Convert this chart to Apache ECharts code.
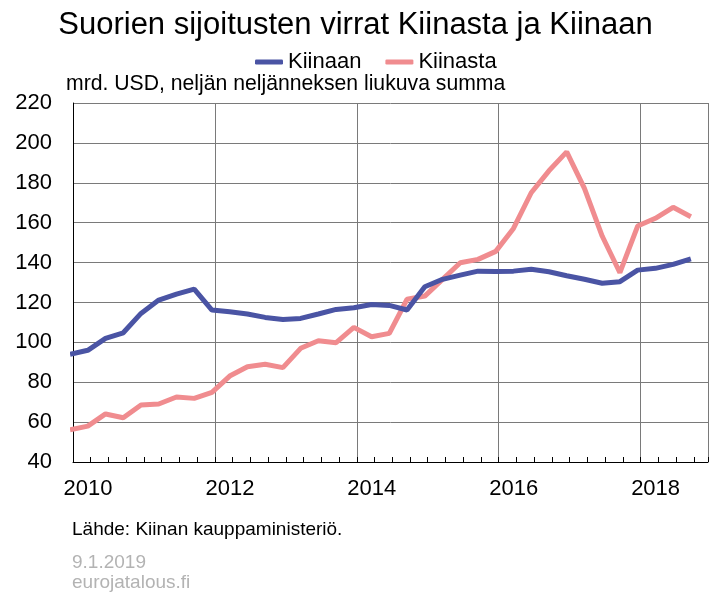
<!DOCTYPE html>
<html>
<head>
<meta charset="utf-8">
<script src="https://cdn.jsdelivr.net/npm/echarts@6/dist/echarts.min.js"></script>
<style>
  html, body { margin: 0; padding: 0; background: #fff; }
  #chart { width: 711px; height: 594px; }
</style>
</head>
<body>
<div id="chart"></div>
<script>
// quarterly observations, 4-quarter rolling sum, bn USD
const quarters = [
  '2009Q4',
  '2010Q1', '2010Q2', '2010Q3', '2010Q4',
  '2011Q1', '2011Q2', '2011Q3', '2011Q4',
  '2012Q1', '2012Q2', '2012Q3', '2012Q4',
  '2013Q1', '2013Q2', '2013Q3', '2013Q4',
  '2014Q1', '2014Q2', '2014Q3', '2014Q4',
  '2015Q1', '2015Q2', '2015Q3', '2015Q4',
  '2016Q1', '2016Q2', '2016Q3', '2016Q4',
  '2017Q1', '2017Q2', '2017Q3', '2017Q4',
  '2018Q1', '2018Q2', '2018Q3'
];
const kiinaan = [
  94,
  96, 102, 104.8, 114.5,
  121.2, 124.2, 126.7, 116.2,
  115.3, 114.2, 112.5, 111.5,
  112.0, 114.2, 116.5, 117.3,
  119.0, 118.5, 116.2, 127.9,
  131.6, 133.7, 135.7, 135.5,
  135.7, 136.6, 135.4, 133.4,
  131.6, 129.6, 130.4, 136.2,
  137.1, 139.1, 141.9
];
const kiinasta = [
  56.2,
  58.0, 64.1, 62.2, 68.6,
  69.1, 72.6, 71.9, 74.9,
  83.1, 87.8, 89.0, 87.3,
  97.0, 100.8, 99.8, 107.5,
  102.8, 104.5, 121.6, 123.2,
  131.6, 139.9, 141.6, 145.6,
  157.1, 175.0, 186.0, 195.5,
  177.2, 153.3, 134.9, 158.3,
  162.2, 167.7, 163.0
];
const yearTicks = [2010, 2012, 2014, 2016, 2018];

const FONT = '"Liberation Sans", Arial, sans-serif';

// point sits in the middle of the quarter's last month
const qToX = q => {
  const y = parseInt(q.slice(0, 4), 10);
  const n = parseInt(q.slice(5), 10);
  return y + ((n - 1) * 3 + 2.5) / 12;
};
const toPairs = vals => quarters.map((q, i) => [qToX(q), vals[i]]);

const chart = echarts.init(document.getElementById('chart'), null, { renderer: 'canvas' });

chart.setOption({
  animation: false,
  backgroundColor: '#fff',
  textStyle: { fontFamily: FONT },
  title: {
    text: 'Suorien sijoitusten virrat Kiinasta ja Kiinaan',
    left: 'center',
    top: 5,
    textStyle: { fontSize: 31, fontWeight: 'normal', color: '#000', fontFamily: FONT }
  },
  legend: {
    left: 250,
    top: 46,
    itemWidth: 28,
    itemHeight: 5,
    itemGap: 24,
    icon: 'roundRect',
    textStyle: { fontSize: 22, color: '#000', fontFamily: FONT },
    data: ['Kiinaan', 'Kiinasta']
  },
  grid: { left: 73, right: 0, top: 103, bottom: 132 },
  xAxis: [
    {
      type: 'value',
      min: 2010,
      max: 2018.95,
      interval: 2,
      axisLine: { show: true, lineStyle: { color: '#000', width: 1 } },
      axisTick: { show: false },
      splitLine: { show: true, lineStyle: { color: '#7a7a7a', width: 1 } },
      axisLabel: {
        fontSize: 22,
        color: '#000',
        fontFamily: FONT,
        margin: 16,
        padding: [0, 0, 0, 30],
        formatter: v => (yearTicks.indexOf(v) >= 0 ? String(v) : '')
      }
    },
    {
      type: 'value',
      min: 2010,
      max: 2018.95,
      interval: 0.25,
      position: 'bottom',
      axisLine: { show: false },
      axisTick: { show: true, inside: true, length: 5, lineStyle: { color: '#000', width: 1 } },
      axisLabel: { show: false },
      splitLine: { show: false }
    }
  ],
  yAxis: {
    type: 'value',
    min: 40,
    max: 220,
    interval: 20,
    axisLine: { show: true, lineStyle: { color: '#000', width: 1 } },
    axisTick: { show: false },
    splitLine: { show: true, lineStyle: { color: '#7a7a7a', width: 1 } },
    axisLabel: { fontSize: 22, color: '#000', fontFamily: FONT, margin: 21 }
  },
  graphic: [
    {
      type: 'text', left: 66, top: 74,
      style: { text: 'mrd. USD, neljän neljänneksen liukuva summa', fontSize: 21.2, fill: '#000', fontFamily: FONT }
    },
    {
      type: 'text', left: 72, top: 520,
      style: { text: 'Lähde: Kiinan kauppaministeriö.', fontSize: 19, fill: '#000', fontFamily: FONT }
    },
    {
      type: 'text', left: 72, top: 553,
      style: { text: '9.1.2019', fontSize: 19, fill: '#b3b3b3', fontFamily: FONT }
    },
    {
      type: 'text', left: 72, top: 573,
      style: { text: 'eurojatalous.fi', fontSize: 19, fill: '#b3b3b3', fontFamily: FONT }
    }
  ],
  series: [
    {
      name: 'Kiinaan',
      type: 'line',
      xAxisIndex: 0,
      data: toPairs(kiinaan),
      symbol: 'none',
      lineStyle: { width: 5, color: '#4a54a4' },
      itemStyle: { color: '#4a54a4' },
      z: 3
    },
    {
      name: 'Kiinasta',
      type: 'line',
      xAxisIndex: 0,
      data: toPairs(kiinasta),
      symbol: 'none',
      lineStyle: { width: 5, color: '#f08c8f' },
      itemStyle: { color: '#f08c8f' },
      z: 2
    }
  ]
});
</script>
</body>
</html>
